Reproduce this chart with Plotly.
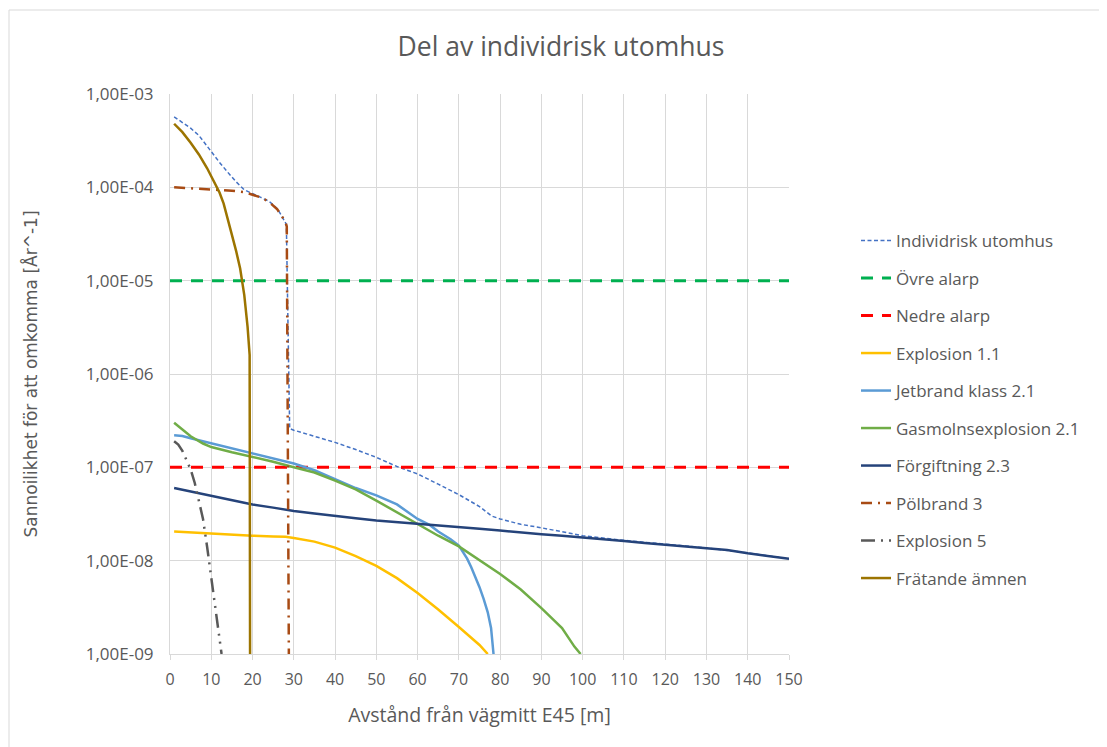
import plotly.graph_objects as go

# ---------------- data ----------------
x_ind = [1, 3, 5, 7, 10, 12, 14, 16, 18, 20, 22, 24, 26, 27, 28.2, 29, 30, 35, 40, 45, 50, 55, 60, 65, 70,
         75, 78, 80, 85, 90, 95, 100, 110, 120, 130, 140, 150]
y_ind = [5.7e-4, 4.9e-4, 4.3e-4, 3.6e-4, 2.4e-4, 1.85e-4, 1.45e-4, 1.15e-4, 9.4e-5, 8.5e-5, 7.8e-5, 7.1e-5,
         5.9e-5, 5.0e-5, 4.0e-5, 2.6e-7, 2.5e-7, 2.15e-7, 1.85e-7, 1.55e-7, 1.28e-7, 1.02e-7, 8.5e-8, 6.6e-8,
         5.1e-8, 3.8e-8, 3.0e-8, 2.8e-8, 2.45e-8, 2.25e-8, 2.05e-8, 1.85e-8, 1.65e-8, 1.5e-8, 1.37e-8,
         1.21e-8, 1.05e-8]

x_alarp = [0, 150]
y_ovre = [1e-5, 1e-5]
y_nedre = [1e-7, 1e-7]

x_exp11 = [1, 5, 10, 15, 20, 25, 28, 30, 35, 40, 45, 50, 55, 60, 65, 70, 75, 77]
y_exp11 = [2.05e-8, 2.0e-8, 1.95e-8, 1.9e-8, 1.85e-8, 1.82e-8, 1.8e-8, 1.75e-8, 1.6e-8, 1.38e-8, 1.12e-8,
           8.8e-9, 6.5e-9, 4.5e-9, 3.0e-9, 1.95e-9, 1.25e-9, 1.0e-9]

x_jet = [1, 3, 5, 8, 10, 15, 20, 25, 30, 35, 40, 45, 50, 55, 60, 63, 65, 68, 70, 72, 73, 74, 75, 76, 77,
         77.8, 78.2, 78.4]
y_jet = [2.2e-7, 2.17e-7, 2.05e-7, 1.9e-7, 1.8e-7, 1.6e-7, 1.4e-7, 1.25e-7, 1.1e-7, 9.3e-8, 7.5e-8, 6.0e-8,
         5.0e-8, 4.0e-8, 2.8e-8, 2.4e-8, 2.05e-8, 1.7e-8, 1.45e-8, 1.05e-8, 8.5e-9, 6.7e-9, 5.2e-9, 3.9e-9,
         2.8e-9, 1.9e-9, 1.3e-9, 1.0e-9]

x_gas = [1, 3, 5, 8, 10, 15, 20, 25, 30, 35, 40, 45, 50, 55, 60, 65, 70, 75, 80, 85, 90, 95, 98, 99.5]
y_gas = [3.0e-7, 2.55e-7, 2.15e-7, 1.8e-7, 1.65e-7, 1.45e-7, 1.3e-7, 1.15e-7, 1.0e-7, 8.8e-8, 7.2e-8, 5.8e-8,
         4.4e-8, 3.3e-8, 2.45e-8, 1.85e-8, 1.42e-8, 1.0e-8, 7.2e-9, 4.9e-9, 3.1e-9, 1.9e-9, 1.2e-9, 1.0e-9]

x_forg = [1, 5, 10, 15, 20, 25, 30, 35, 40, 45, 50, 55, 60, 65, 70, 75, 80, 85, 90, 95, 100, 105, 110, 115,
          120, 125, 130, 135, 140, 145, 150]
y_forg = [6.0e-8, 5.5e-8, 5.0e-8, 4.5e-8, 4.0e-8, 3.7e-8, 3.4e-8, 3.2e-8, 3.0e-8, 2.85e-8, 2.7e-8, 2.6e-8,
          2.5e-8, 2.4e-8, 2.3e-8, 2.2e-8, 2.1e-8, 2.0e-8, 1.92e-8, 1.85e-8, 1.78e-8, 1.7e-8, 1.62e-8,
          1.55e-8, 1.48e-8, 1.42e-8, 1.36e-8, 1.3e-8, 1.2e-8, 1.12e-8, 1.05e-8]

x_pol = [1, 5, 10, 15, 18, 20, 22, 24, 26, 27, 28, 28.3, 28.8]
y_pol = [1.0e-4, 9.8e-5, 9.6e-5, 9.2e-5, 8.9e-5, 8.4e-5, 7.8e-5, 7.0e-5, 5.8e-5, 5.0e-5, 4.2e-5, 3.8e-5, 1.0e-9]

x_exp5 = [1, 2, 3, 4, 5, 6, 7, 8, 9, 10, 11, 12, 12.5]
y_exp5 = [1.9e-7, 1.75e-7, 1.5e-7, 1.2e-7, 9.5e-8, 6.8e-8, 4.5e-8, 2.8e-8, 1.4e-8, 6.5e-9, 3.2e-9, 1.5e-9, 1.0e-9]

x_frat = [1, 3, 5, 7, 9, 11, 12, 13, 14, 15, 16, 17, 18, 18.8, 19.3, 19.4]
y_frat = [4.8e-4, 3.9e-4, 3.0e-4, 2.25e-4, 1.6e-4, 1.1e-4, 8.8e-5, 6.7e-5, 4.7e-5, 3.1e-5, 2.1e-5, 1.35e-5,
          7.0e-6, 3.2e-6, 1.6e-6, 1.0e-9]

y_tickvals = [1e-3, 1e-4, 1e-5, 1e-6, 1e-7, 1e-8, 1e-9]
y_ticktext = ["1,00E-03", "1,00E-04", "1,00E-05", "1,00E-06", "1,00E-07", "1,00E-08", "1,00E-09"]
x_tickvals = list(range(0, 151, 10))

# ---------------- figure ----------------
FONT = "Open Sans"
GREY = "#595959"

series = [
    ("Individrisk utomhus", x_ind, y_ind, dict(color="#4472C4", width=1.5, dash="4px,2.5px")),
    ("Övre alarp", x_alarp, y_ovre, dict(color="#00B050", width=3, dash="12px,9px")),
    ("Nedre alarp", x_alarp, y_nedre, dict(color="#FF0000", width=3, dash="12px,9px")),
    ("Explosion 1.1", x_exp11, y_exp11, dict(color="#FFC000", width=2.5)),
    ("Jetbrand klass 2.1", x_jet, y_jet, dict(color="#5B9BD5", width=2.5)),
    ("Gasmolnsexplosion 2.1", x_gas, y_gas, dict(color="#70AD47", width=2.5)),
    ("Förgiftning 2.3", x_forg, y_forg, dict(color="#25437A", width=2.5)),
    ("Pölbrand 3", x_pol, y_pol, dict(color="#A84B14", width=2.5, dash="11px,6px,2px,6px")),
    ("Explosion 5", x_exp5, y_exp5, dict(color="#595959", width=2.5, dash="14px,6px,2px,6px,2px,6px")),
    ("Frätande ämnen", x_frat, y_frat, dict(color="#9C7400", width=2.5)),
]

fig = go.Figure()
for name, xs, ys, line in series:
    fig.add_trace(go.Scatter(x=xs, y=ys, name=name, mode="lines", line=line,
                             legendgroup=name, hoverinfo="x+y+name"))

# plot area in figure coords: x 162..781, y 86..646 (page has an 8px body margin)
fig.update_layout(
    width=1107, height=747,
    margin=dict(l=162, r=326, t=86, b=101),
    paper_bgcolor="white", plot_bgcolor="white",
    font=dict(family=FONT, color=GREY, size=15),
    title=dict(text="Del av individrisk utomhus", x=553 / 1107, xanchor="center",
               y=1 - 39 / 747, yanchor="middle",
               font=dict(family=FONT, size=26.5, color=GREY)),
    legend=dict(x=(848 - 162) / 619, xanchor="left", y=1 - 129 / 560, yanchor="top",
                font=dict(family=FONT, size=17, color=GREY),
                tracegroupgap=12.4, bgcolor="rgba(0,0,0,0)"),
    shapes=[dict(type="rect", xref="paper", yref="paper",
                 x0=(1 - 162) / 619, x1=(1130 - 162) / 619,
                 y0=-(760 - 646) / 560, y1=(646 - 2) / 560,
                 line=dict(color="#D9D9D9", width=1), layer="below")],
)

fig.update_xaxes(
    range=[0, 150], tickvals=x_tickvals, showgrid=True, gridcolor="#D9D9D9", gridwidth=1,
    showline=True, linecolor="#D9D9D9", linewidth=1, zeroline=False,
    ticks="outside", ticklen=5, tickcolor="#D9D9D9", ticklabelstandoff=6,
    tickfont=dict(family=FONT, size=16, color=GREY),
    title=dict(text="Avstånd från vägmitt E45 [m]", standoff=19,
               font=dict(family=FONT, size=19.5, color=GREY)),
)
fig.update_yaxes(
    type="log", range=[-9, -3], tickvals=y_tickvals, ticktext=y_ticktext,
    showgrid=True, gridcolor="#D9D9D9", gridwidth=1,
    showline=True, linecolor="#D9D9D9", linewidth=1, zeroline=False,
    ticks="", ticklabelstandoff=12,
    tickfont=dict(family=FONT, size=17, color=GREY),
    title=dict(text="Sannoilikhet för att omkomma [År^-1]", standoff=43,
               font=dict(family="DejaVu Sans", size=17, color=GREY)),
)

fig.write_html("out.html")
